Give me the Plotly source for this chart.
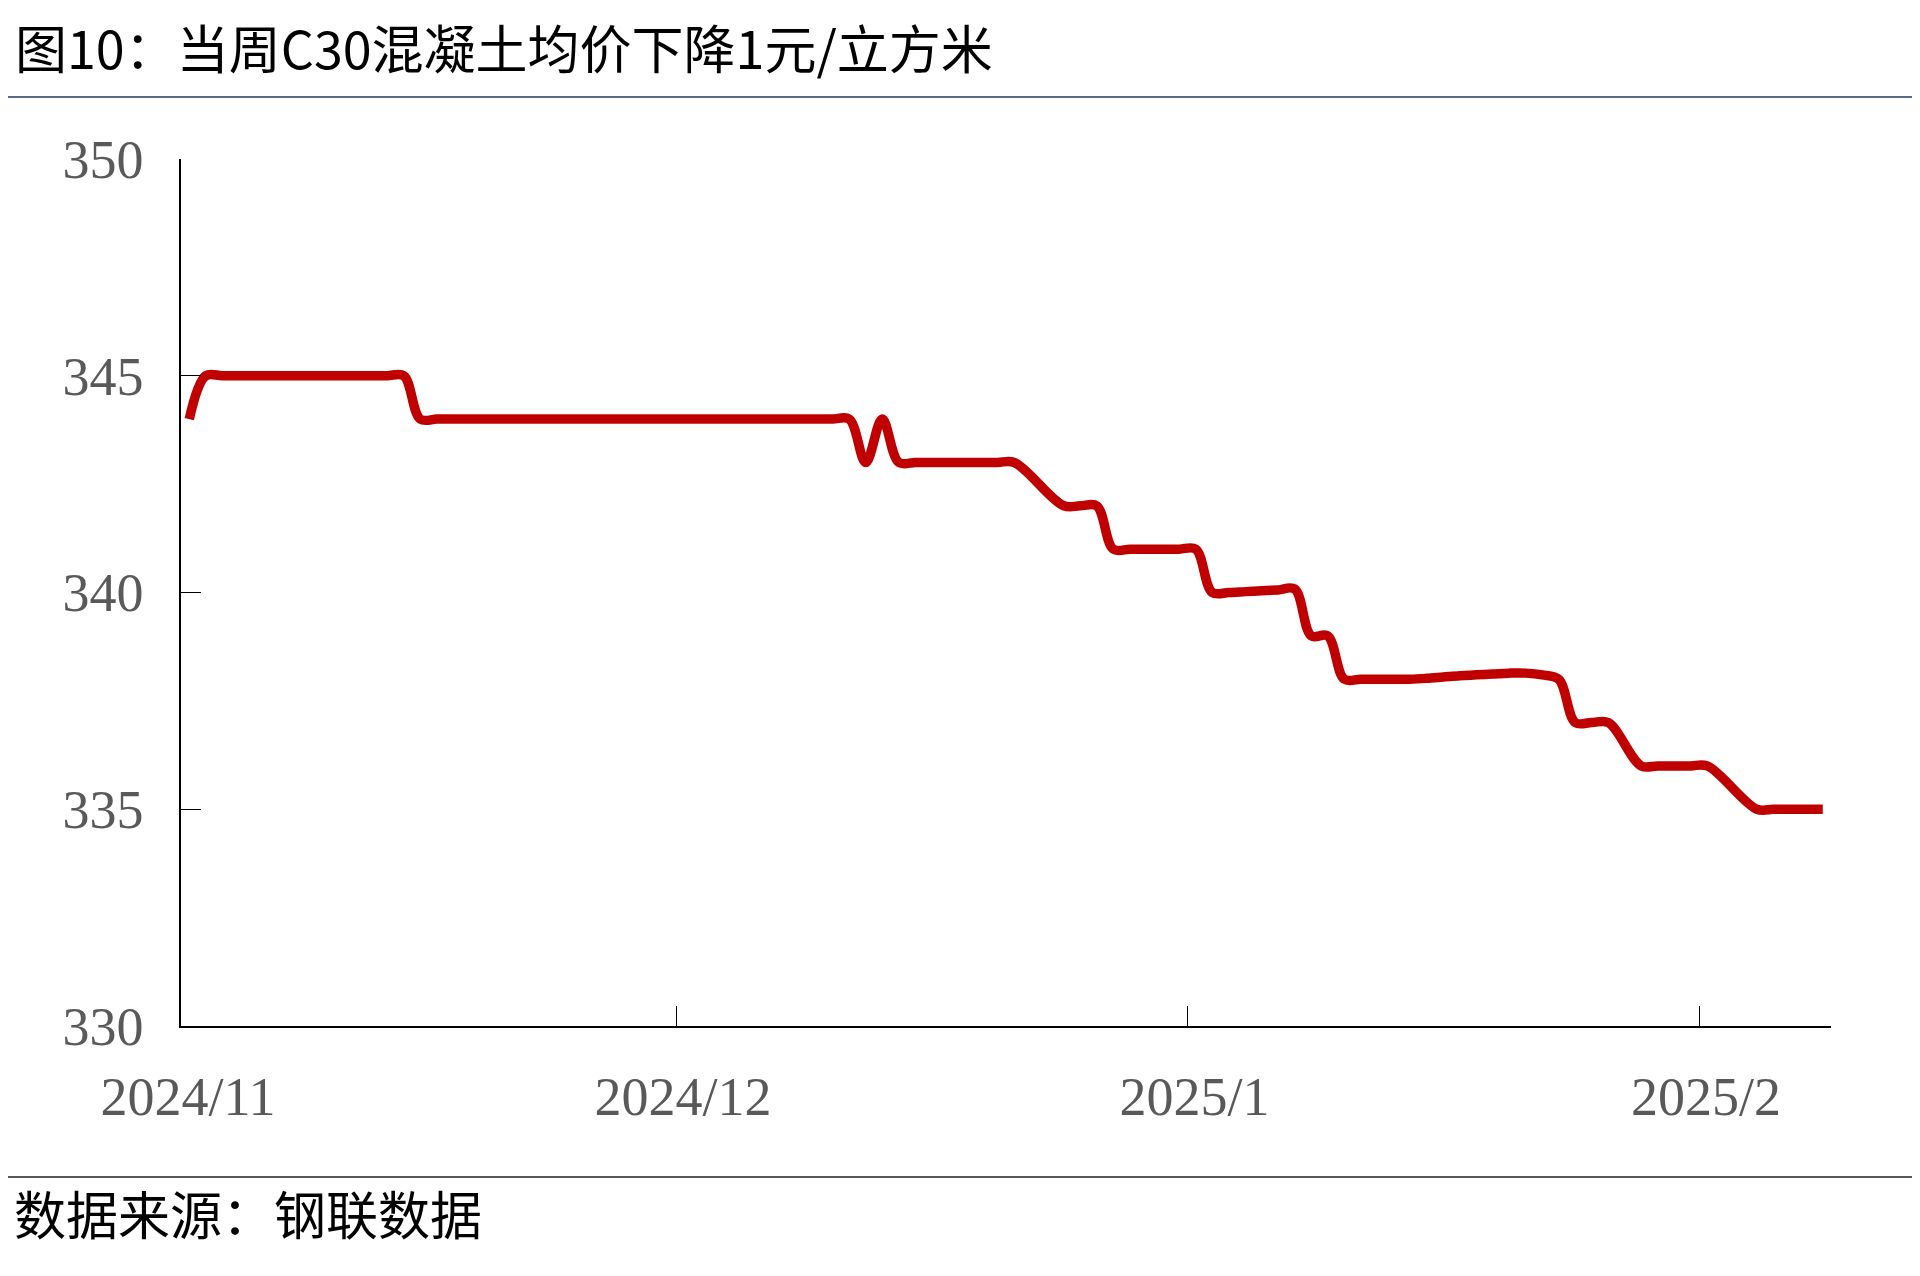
import pandas as pd
import plotly.graph_objects as go

# ---- data ----
dates = [
    "2024-11-01", "2024-11-02", "2024-11-03", "2024-11-04", "2024-11-05", "2024-11-06", "2024-11-07",
    "2024-11-08", "2024-11-09", "2024-11-10", "2024-11-11", "2024-11-12", "2024-11-13", "2024-11-14",
    "2024-11-15", "2024-11-16", "2024-11-17", "2024-11-18", "2024-11-19", "2024-11-20", "2024-11-21",
    "2024-11-22", "2024-11-23", "2024-11-24", "2024-11-25", "2024-11-26", "2024-11-27", "2024-11-28",
    "2024-11-29", "2024-11-30",
    "2024-12-01", "2024-12-02", "2024-12-03", "2024-12-04", "2024-12-05", "2024-12-06", "2024-12-07",
    "2024-12-08", "2024-12-09", "2024-12-10", "2024-12-11", "2024-12-12", "2024-12-13", "2024-12-14",
    "2024-12-15", "2024-12-16", "2024-12-17", "2024-12-18", "2024-12-19", "2024-12-20", "2024-12-21",
    "2024-12-24", "2024-12-25", "2024-12-26", "2024-12-27", "2024-12-28", "2024-12-29", "2024-12-30",
    "2024-12-31",
    "2025-01-01", "2025-01-02", "2025-01-03", "2025-01-04", "2025-01-05", "2025-01-06", "2025-01-07",
    "2025-01-08", "2025-01-09", "2025-01-10", "2025-01-11", "2025-01-12", "2025-01-13", "2025-01-14",
    "2025-01-15", "2025-01-16", "2025-01-17", "2025-01-18", "2025-01-19", "2025-01-20", "2025-01-21",
    "2025-01-22", "2025-01-23", "2025-01-24", "2025-01-25", "2025-01-26", "2025-01-28", "2025-01-29",
    "2025-01-30", "2025-01-31",
    "2025-02-01", "2025-02-04", "2025-02-05", "2025-02-06", "2025-02-07", "2025-02-08",
]
prices = [
    344, 345, 345, 345, 345, 345, 345,
    345, 345, 345, 345, 345, 345, 345,
    344, 344, 344, 344, 344, 344, 344,
    344, 344, 344, 344, 344, 344, 344,
    344, 344,
    344, 344, 344, 344, 344, 344, 344,
    344, 344, 344, 344, 343, 344, 343,
    343, 343, 343, 343, 343, 343, 343,
    342, 342, 342, 341, 341, 341, 341,
    341,
    341, 340, 340, 340.02, 340.04, 340.06, 340.08,
    339, 339, 338, 338, 338, 338, 338,
    338.02, 338.05, 338.08, 338.1, 338.12, 338.14, 338.14,
    338.1, 338.0, 337, 337, 337, 336, 336,
    336, 336,
    336, 335, 335, 335, 335, 335,
]
y_ticks = [330, 335, 340, 345, 350]
x_tick_dates = ["2024-11-01", "2024-12-01", "2025-01-01", "2025-02-01"]
x_tick_labels = ["2024/11", "2024/12", "2025/1", "2025/2"]
x_range = ["2024-11-01", "2025-02-09"]
title_text = "图10：当周C30混凝土均价下降1元/立方米"
source_text = "数据来源：钢联数据"

# ---- layout geometry (page has an 8px body margin) ----
OFF = 8
W, H = 1920 - OFF, 1276 - OFF
L, T = 181 - OFF, 159 - OFF
PW, PH = 1650, 867
R, B = W - L - PW, H - T - PH


def px_x(px):
    return (px - OFF - L) / PW


def px_y(py):
    return (T + PH - (py - OFF)) / PH


# daily points sit in the middle of their day on the date axis
x_vals = pd.to_datetime(dates) + pd.Timedelta(hours=12)

fig = go.Figure()
fig.add_trace(go.Scatter(
    x=x_vals, y=prices, mode="lines",
    line=dict(color="#C00000", width=9.5, shape="spline", smoothing=1.0),
    showlegend=False, hoverinfo="skip",
))

tick_font = dict(family="Liberation Serif, Times New Roman, serif", size=54, color="#595959")
cjk = "Noto Sans CJK SC"

fig.update_layout(
    width=W, height=H,
    margin=dict(l=L, r=R, t=T, b=B, pad=0),
    paper_bgcolor="white", plot_bgcolor="white",
    title=dict(text=title_text, x=(15 - OFF) / W, xanchor="left",
               y=1 - (51 - OFF) / H, yanchor="middle",
               xref="container", yref="container",
               font=dict(family=cjk, size=52, color="black")),
    xaxis=dict(
        type="date", range=x_range,
        tickvals=x_tick_dates, ticktext=x_tick_labels,
        ticks="inside", ticklen=20, tickwidth=1, tickcolor="black",
        showline=True, linecolor="black", linewidth=2,
        showgrid=False, zeroline=False,
        tickfont=tick_font, ticklabelstandoff=22, ticklabelshift=7,
    ),
    yaxis=dict(
        range=[330, 350], tickvals=y_ticks,
        ticks="inside", ticklen=20, tickwidth=1, tickcolor="black",
        showline=True, linecolor="black", linewidth=1.5,
        showgrid=False, zeroline=False,
        tickfont=tick_font, ticklabelstandoff=25,
    ),
    shapes=[
        dict(type="line", xref="paper", yref="paper",
             x0=px_x(0), x1=px_x(1920), y0=px_y(97), y1=px_y(97),
             line=dict(color="#1F3864", width=1.5)),
        dict(type="line", xref="paper", yref="paper",
             x0=px_x(0), x1=px_x(1920), y0=px_y(1177), y1=px_y(1177),
             line=dict(color="#5A5A5A", width=2)),
    ],
    annotations=[
        dict(text=source_text, xref="paper", yref="paper",
             x=px_x(12), y=px_y(1212), xanchor="left", yanchor="middle",
             showarrow=False, font=dict(family=cjk, size=52, color="black")),
    ],
)

fig.write_html("out.html")
